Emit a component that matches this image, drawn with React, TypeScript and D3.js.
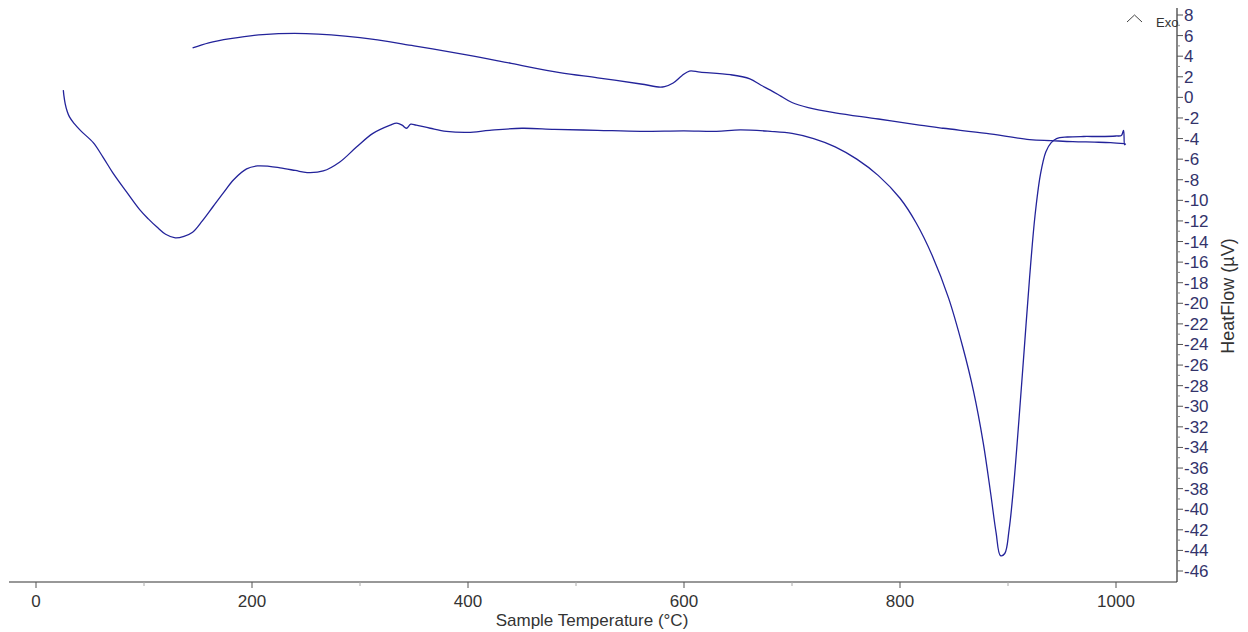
import * as d3 from "d3";

// heating run (temperature °C, heat flow µV)
const heatTemp = [25.3, 25.8, 27, 29, 31, 35, 42, 53, 62, 71, 84, 96, 104, 112, 120, 129, 137, 145, 154, 164, 174, 183, 195, 205, 216, 226, 240, 251, 266, 281, 297, 312, 328, 334, 339, 343, 347, 352, 365, 380, 400, 420, 450, 480, 520, 560, 600, 630, 652, 680, 700, 720, 740, 760, 780, 800, 815, 830, 845, 858, 868, 877, 884, 889, 893, 897, 901, 905, 910, 915, 920, 925, 930, 935, 940, 945, 955, 970, 985, 1000, 1005, 1007, 1008, 1009];
const heatFlow = [0.7, 0.2, -0.6, -1.4, -1.9, -2.5, -3.3, -4.4, -5.8, -7.3, -9.2, -10.9, -11.8, -12.6, -13.3, -13.65, -13.5, -13.1, -12.0, -10.6, -9.2, -8.0, -6.95, -6.66, -6.7, -6.85, -7.1, -7.3, -7.15, -6.3, -4.8, -3.5, -2.7, -2.5, -2.7, -3.0, -2.6, -2.7, -3.0, -3.3, -3.4, -3.2, -3.0, -3.1, -3.2, -3.3, -3.25, -3.3, -3.15, -3.3, -3.5, -4.0, -4.8, -6.0, -7.6, -9.8, -12.2, -15.4, -19.5, -24.2, -28.5, -33.5, -38.5, -42.3, -44.5, -44.3, -42.0, -38.0, -31.5, -24.5, -17.5, -11.5, -7.5, -5.3, -4.4, -4.0, -3.85, -3.8, -3.8, -3.75, -3.7, -3.2, -4.6, -4.5];

// cooling run
const coolTemp = [1008, 995, 980, 960, 940, 920, 880, 840, 818, 780, 740, 715, 700, 690, 680, 671, 661, 643, 615, 605, 598, 590, 582, 578, 560, 520, 485, 440, 400, 350, 300, 250, 210, 180, 160, 145];
const coolFlow = [-4.5, -4.4, -4.35, -4.3, -4.2, -4.1, -3.5, -3.0, -2.7, -2.1, -1.5, -1.0, -0.5, 0.1, 0.7, 1.2, 1.8, 2.2, 2.45, 2.56, 2.1, 1.4, 1.05, 1.0, 1.3, 1.9, 2.4, 3.3, 4.1, 5.0, 5.8, 6.2, 6.1, 5.7, 5.3, 4.8];

const xMajor = [0, 200, 400, 600, 800, 1000];
const xMinor = [100, 300, 500, 700, 900];
const yMajor = d3.range(8, -47, -2);
const yMinor = d3.range(7, -47, -2);

export default function App() {
  const width = 1248;
  const height = 632;
  const x = d3.scaleLinear().domain([0, 1000]).range([36, 1116]);
  const y = d3.scaleLinear().domain([8, -46]).range([15, 571]);
  const axisX = 1177;
  const axisY = 582;

  const heatPath = d3
    .line<number>()
    .x((_, i) => x(heatTemp[i]))
    .y((d) => y(d))
    .curve(d3.curveCatmullRom)(heatFlow);
  const coolPath = d3
    .line<number>()
    .x((_, i) => x(coolTemp[i]))
    .y((d) => y(d))
    .curve(d3.curveCatmullRom)(coolFlow);

  const font = "'Liberation Sans', Arial, sans-serif";

  return (
    <svg width={width} height={height} style={{ position: "absolute", left: 0, top: 0, background: "#fff" }}>
      <path d={heatPath ?? ""} fill="none" stroke="#23239a" strokeWidth={1.3} />
      <path d={coolPath ?? ""} fill="none" stroke="#23239a" strokeWidth={1.3} />

      {/* x axis */}
      <line x1={9} x2={axisX} y1={axisY} y2={axisY} stroke="#333" strokeWidth={1.2} />
      {xMajor.map((t) => (
        <g key={`xm${t}`}>
          <line x1={x(t)} x2={x(t)} y1={axisY} y2={axisY + 6} stroke="#555" />
          <text x={x(t)} y={607} textAnchor="middle" fontFamily={font} fontSize={17} fill="#333">
            {t}
          </text>
        </g>
      ))}
      {xMinor.map((t) => (
        <line key={`xn${t}`} x1={x(t)} x2={x(t)} y1={axisY} y2={axisY + 4} stroke="#aaa" />
      ))}
      <text x={592} y={626} textAnchor="middle" fontFamily={font} fontSize={17} fill="#333">
        Sample Temperature (°C)
      </text>

      {/* y axis */}
      <line x1={axisX} x2={axisX} y1={8} y2={axisY} stroke="#333" strokeWidth={1.2} />
      {yMajor.map((t) => (
        <g key={`ym${t}`}>
          <line x1={axisX} x2={axisX + 6} y1={y(t)} y2={y(t)} stroke="#555" />
          <text x={axisX + 7} y={y(t) + 6} fontFamily={font} fontSize={17} fill="#33336b">
            {t}
          </text>
        </g>
      ))}
      {yMinor.map((t) => (
        <line key={`yn${t}`} x1={axisX} x2={axisX + 3} y1={y(t)} y2={y(t)} stroke="#888" />
      ))}
      <text
        transform={`translate(1234, 296) rotate(-90)`}
        textAnchor="middle"
        fontFamily={font}
        fontSize={18}
        fill="#333"
      >
        HeatFlow (µV)
      </text>

      {/* exo marker */}
      <path d="M1127,22 L1134.5,15 L1142,22" fill="none" stroke="#444" strokeWidth={1} />
      <text x={1156} y={27} fontFamily={font} fontSize={13} fill="#333">
        Exo
      </text>
    </svg>
  );
}
